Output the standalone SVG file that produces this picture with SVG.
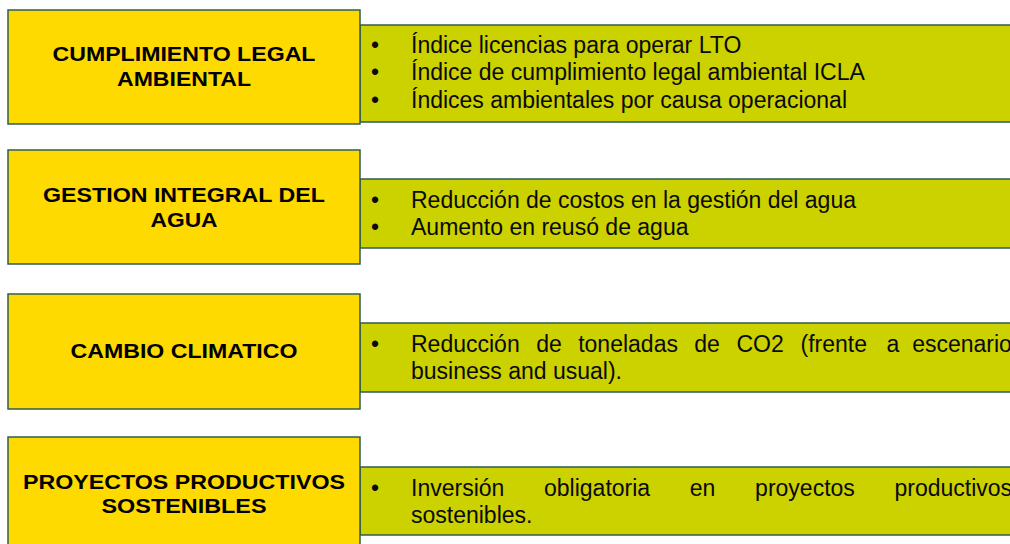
<svg xmlns="http://www.w3.org/2000/svg" width="1010" height="544" viewBox="0 0 1010 544">
<style>
.y{fill:#FFDA00;stroke:#2F5E4C;stroke-width:1.5}
.g{fill:#CCD100;stroke:#2F5E4C;stroke-width:1.5}
.t{font-family:"Liberation Sans",Arial,sans-serif;font-weight:bold;font-size:20.5px;fill:#000;text-anchor:middle}
.b{font-family:"Liberation Sans",Arial,sans-serif;font-size:23px;fill:#0a0a0a}
</style>
<rect width="1010" height="544" fill="#fff"/>
<g id="n1">
<rect class="g" x="360" y="25" width="660" height="97"/>
<rect class="y" x="8" y="10" width="352" height="114"/>
<text class="t" x="184" y="61" textLength="263" lengthAdjust="spacingAndGlyphs">CUMPLIMIENTO LEGAL</text>
<text class="t" x="184" y="85.5" textLength="134" lengthAdjust="spacingAndGlyphs">AMBIENTAL</text>
<text class="b" x="371" y="53">•</text>
<text class="b" x="371" y="80">•</text>
<text class="b" x="371" y="107.5">•</text>
<text class="b" x="411" y="53">Índice licencias para operar LTO</text>
<text class="b" x="411" y="80">Índice de cumplimiento legal ambiental ICLA</text>
<text class="b" x="411" y="107.5">Índices ambientales por causa operacional</text>
</g>
<g id="n2">
<rect class="g" x="360" y="179" width="660" height="69"/>
<rect class="y" x="8" y="150" width="352" height="114"/>
<text class="t" x="184" y="201.5" textLength="282" lengthAdjust="spacingAndGlyphs">GESTION INTEGRAL DEL</text>
<text class="t" x="184" y="226.5" textLength="67" lengthAdjust="spacingAndGlyphs">AGUA</text>
<text class="b" x="371" y="208">•</text>
<text class="b" x="371" y="234.5">•</text>
<text class="b" x="411" y="208">Reducción de costos en la gestión del agua</text>
<text class="b" x="411" y="234.5">Aumento en reusó de agua</text>
</g>
<g id="n3">
<rect class="g" x="360" y="323" width="660" height="69"/>
<rect class="y" x="8" y="294" width="352" height="115"/>
<text class="t" x="184" y="358" textLength="227" lengthAdjust="spacingAndGlyphs">CAMBIO CLIMATICO</text>
<text class="b" x="371" y="352">•</text>
<text class="b" y="352"><tspan x="411">Reducción</tspan><tspan x="536.3">de</tspan><tspan x="578.2">toneladas</tspan><tspan x="694.3">de</tspan><tspan x="736.4">CO2</tspan><tspan x="800.5">(frente</tspan><tspan x="886.5">a</tspan><tspan x="912.2">escenario</tspan></text>
<text class="b" x="411" y="378.5">business and usual).</text>
</g>
<g id="n4">
<rect class="g" x="360" y="467" width="660" height="68"/>
<rect class="y" x="8" y="437" width="352" height="120"/>
<text class="t" x="184" y="489.3" textLength="322" lengthAdjust="spacingAndGlyphs">PROYECTOS PRODUCTIVOS</text>
<text class="t" x="184" y="513.3" textLength="165" lengthAdjust="spacingAndGlyphs">SOSTENIBLES</text>
<text class="b" x="371" y="496">•</text>
<text class="b" y="496"><tspan x="411">Inversión</tspan><tspan x="544">obligatoria</tspan><tspan x="689.8">en</tspan><tspan x="755.1">proyectos</tspan><tspan x="894.5">productivos</tspan></text>
<text class="b" x="411" y="522.5">sostenibles.</text>
</g>
<g id="connectors"/>
</svg>
